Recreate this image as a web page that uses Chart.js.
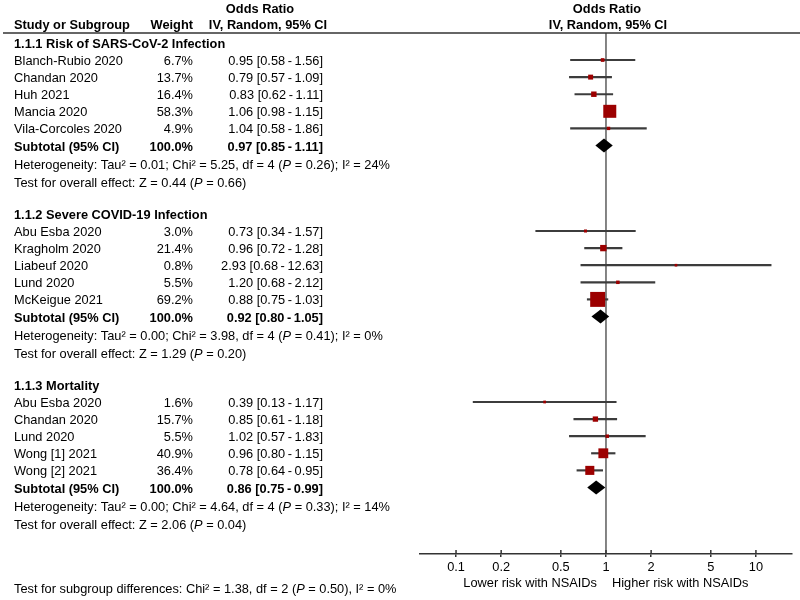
<!DOCTYPE html>
<html>
<head>
<meta charset="utf-8">
<script src="https://cdn.jsdelivr.net/npm/chart.js@4.4.0/dist/chart.umd.min.js"></script>
<style>
html, body { margin: 0; padding: 0; background: #fff; }
#wrap { width: 800px; height: 600px; position: relative; }
</style>
</head>
<body>
<div id="wrap"><canvas id="forest" width="800" height="600"></canvas></div>
<script>
// subgroup titles
var groupTitles = ["1.1.1 Risk of SARS-CoV-2 Infection", "1.1.2 Severe COVID-19 Infection", "1.1.3 Mortality"];

// 1.1.1
var studies1 = ["Blanch-Rubio 2020", "Chandan 2020", "Huh 2021", "Mancia 2020", "Vila-Corcoles 2020"];
var weights1 = [6.7, 13.7, 16.4, 58.3, 4.9];
var or1 = [0.95, 0.79, 0.83, 1.06, 1.04];
var lo1 = [0.58, 0.57, 0.62, 0.98, 0.58];
var hi1 = [1.56, 1.09, 1.11, 1.15, 1.86];

// 1.1.2
var studies2 = ["Abu Esba 2020", "Kragholm 2020", "Liabeuf 2020", "Lund 2020", "McKeigue 2021"];
var weights2 = [3.0, 21.4, 0.8, 5.5, 69.2];
var or2 = [0.73, 0.96, 2.93, 1.20, 0.88];
var lo2 = [0.34, 0.72, 0.68, 0.68, 0.75];
var hi2 = [1.57, 1.28, 12.63, 2.12, 1.03];

// 1.1.3
var studies3 = ["Abu Esba 2020", "Chandan 2020", "Lund 2020", "Wong [1] 2021", "Wong [2] 2021"];
var weights3 = [1.6, 15.7, 5.5, 40.9, 36.4];
var or3 = [0.39, 0.85, 1.02, 0.96, 0.78];
var lo3 = [0.13, 0.61, 0.57, 0.80, 0.64];
var hi3 = [1.17, 1.18, 1.83, 1.15, 0.95];

// subtotals
var subOr = [0.97, 0.92, 0.86];
var subLo = [0.85, 0.80, 0.75];
var subHi = [1.11, 1.05, 0.99];

// heterogeneity + overall effect
var hetTau = ["0.01", "0.00", "0.00"];
var hetChi = ["5.25", "3.98", "4.64"];
var hetDf = [4, 4, 4];
var hetP = ["0.26", "0.41", "0.33"];
var hetI2 = [24, 0, 14];
var effZ = ["0.44", "1.29", "2.06"];
var effP = ["0.66", "0.20", "0.04"];

var tickValues = [0.1, 0.2, 0.5, 1, 2, 5, 10];

var FONT = "'Liberation Sans', Arial, sans-serif";
var FS = "12.8px ";

var groups = [
    {studies: studies1, w: weights1, or: or1, lo: lo1, hi: hi1},
    {studies: studies2, w: weights2, or: or2, lo: lo2, hi: hi2},
    {studies: studies3, w: weights3, or: or3, lo: lo3, hi: hi3}
];

function ciText(o, l, h) {
    return o.toFixed(2) + " [" + l.toFixed(2) + "\u2009-\u2009" + h.toFixed(2) + "]";
}

// lay out rows (row index on the y axis)
var rows = [];      // text rows
var ciData = [];
var pointData = [];
var pointSize = [];
var diamonds = [];
var r = -1;
for (var g = 0; g < groups.length; g++) {
    var gr = groups[g];
    rows.push({row: r, kind: "title", text: groupTitles[g]});
    r++;
    for (var i = 0; i < gr.studies.length; i++) {
        rows.push({row: r, kind: "study", text: gr.studies[i], weight: gr.w[i].toFixed(1) + "%", ci: ciText(gr.or[i], gr.lo[i], gr.hi[i])});
        ciData.push({y: r, x: [gr.lo[i], gr.hi[i]]});
        pointData.push({x: gr.or[i], y: r});
        // square side grows with weight
        pointSize.push((2.5 + 0.18 * gr.w[i]) / Math.SQRT2);
        r++;
    }
    rows.push({row: r, kind: "subtotal", text: "Subtotal (95% CI)", weight: "100.0%", ci: ciText(subOr[g], subLo[g], subHi[g])});
    diamonds.push({row: r, or: subOr[g], lo: subLo[g], hi: subHi[g]});
    r++;
    rows.push({row: r, kind: "het", g: g});
    r++;
    rows.push({row: r, kind: "eff", g: g});
    r += 2;
}

function drawParts(ctx, x, y, parts) {
    for (var k = 0; k < parts.length; k++) {
        ctx.font = (parts[k][1] ? "italic " : "") + FS + FONT;
        ctx.fillText(parts[k][0], x, y);
        x += ctx.measureText(parts[k][0]).width;
    }
}

var forestPlugin = {
    id: "forest",
    beforeDatasetsDraw: function (chart) {
        var ctx = chart.ctx, ca = chart.chartArea, xs = chart.scales.x;
        ctx.save();
        // header rule
        ctx.strokeStyle = "#333";
        ctx.lineWidth = 1.5;
        ctx.beginPath();
        ctx.moveTo(3, ca.top);
        ctx.lineTo(800, ca.top);
        ctx.stroke();
        // line of no effect
        var x1 = xs.getPixelForValue(1);
        ctx.lineWidth = 1.2;
        ctx.beginPath();
        ctx.moveTo(x1, ca.top);
        ctx.lineTo(x1, ca.bottom);
        ctx.stroke();
        // upper half of tick marks
        ctx.lineWidth = 1.5;
        tickValues.forEach(function (v) {
            var px = xs.getPixelForValue(v);
            ctx.beginPath();
            ctx.moveTo(px, ca.bottom - 4);
            ctx.lineTo(px, ca.bottom);
            ctx.stroke();
        });
        ctx.restore();
    },
    afterDatasetsDraw: function (chart) {
        var ctx = chart.ctx, xs = chart.scales.x, ys = chart.scales.y;
        ctx.save();
        ctx.fillStyle = "#000";
        diamonds.forEach(function (d) {
            var yc = ys.getPixelForValue(d.row);
            ctx.beginPath();
            ctx.moveTo(xs.getPixelForValue(d.lo), yc);
            ctx.lineTo(xs.getPixelForValue(d.or), yc - 7);
            ctx.lineTo(xs.getPixelForValue(d.hi), yc);
            ctx.lineTo(xs.getPixelForValue(d.or), yc + 7);
            ctx.closePath();
            ctx.fill();
        });
        ctx.restore();
    },
    afterDraw: function (chart) {
        var ctx = chart.ctx, xs = chart.scales.x, ys = chart.scales.y;
        var x1 = xs.getPixelForValue(1);
        ctx.save();
        ctx.fillStyle = "#000";
        ctx.textBaseline = "middle";

        // headers
        ctx.font = "bold " + FS + FONT;
        ctx.textAlign = "left";
        ctx.fillText("Study or Subgroup", 14, 25);
        ctx.textAlign = "right";
        ctx.fillText("Weight", 193, 25);
        ctx.textAlign = "center";
        ctx.fillText("Odds Ratio", 260, 9);
        ctx.fillText("IV, Random, 95% CI", 268, 25);
        ctx.fillText("Odds Ratio", x1 + 1, 9);
        ctx.fillText("IV, Random, 95% CI", x1 + 2, 25);

        rows.forEach(function (row) {
            var y = ys.getPixelForValue(row.row) + 1.5;
            if (row.kind === "title") {
                ctx.font = "bold " + FS + FONT;
                ctx.textAlign = "left";
                ctx.fillText(row.text, 14, y);
            } else if (row.kind === "study" || row.kind === "subtotal") {
                ctx.font = (row.kind === "subtotal" ? "bold " : "") + FS + FONT;
                ctx.textAlign = "left";
                ctx.fillText(row.text, 14, y);
                ctx.textAlign = "right";
                ctx.fillText(row.weight, 193, y);
                ctx.fillText(row.ci, 323, y);
            } else if (row.kind === "het") {
                ctx.textAlign = "left";
                drawParts(ctx, 14, y + 1, [
                    ["Heterogeneity: Tau\u00b2 = " + hetTau[row.g] + "; Chi\u00b2 = " + hetChi[row.g] + ", df = " + hetDf[row.g] + " (", false],
                    ["P", true],
                    [" = " + hetP[row.g] + "); I\u00b2 = " + hetI2[row.g] + "%", false]
                ]);
            } else if (row.kind === "eff") {
                ctx.textAlign = "left";
                drawParts(ctx, 14, y + 2, [
                    ["Test for overall effect: Z = " + effZ[row.g] + " (", false],
                    ["P", true],
                    [" = " + effP[row.g] + ")", false]
                ]);
            }
        });

        // favours labels
        ctx.font = FS + FONT;
        ctx.textAlign = "right";
        ctx.fillText("Lower risk with NSAIDs", x1 - 9, 583);
        ctx.textAlign = "left";
        ctx.fillText("Higher risk with NSAIDs", x1 + 6, 583);

        drawParts(ctx, 14, 589, [
            ["Test for subgroup differences: Chi\u00b2 = 1.38, df = 2 (", false],
            ["P", true],
            [" = 0.50), I\u00b2 = 0%", false]
        ]);
        ctx.restore();
    }
};

var ctx = document.getElementById("forest");

var forestChart = new Chart(ctx, {
    type: "bar",
    data: {
        datasets: [
            {
                type: "scatter",
                label: "Odds ratio",
                data: pointData,
                pointStyle: "rect",
                pointRadius: pointSize,
                pointHoverRadius: pointSize,
                backgroundColor: "#9c0000",
                borderWidth: 0,
                order: 0
            },
            {
                type: "bar",
                label: "95% CI",
                indexAxis: "y",
                data: ciData,
                barThickness: 1.5,
                backgroundColor: "#3c3c3c",
                order: 1
            }
        ]
    },
    options: {
        responsive: false,
        animation: false,
        devicePixelRatio: 1,
        indexAxis: "y",
        layout: {autoPadding: false, padding: {left: 420, right: 8, top: 33, bottom: 16}},
        plugins: {legend: {display: false}, tooltip: {enabled: false}},
        scales: {
            x: {
                type: "logarithmic",
                position: "bottom",
                min: 0.0575,
                max: 17.4,
                afterBuildTicks: function (scale) {
                    scale.ticks = tickValues.map(function (v) { return {value: v}; });
                },
                afterFit: function (scale) { scale.height = 30; },
                border: {display: true, color: "#333", width: 1.5},
                grid: {display: true, drawOnChartArea: false, drawTicks: true, tickLength: 3, color: "#333", lineWidth: 1.5},
                ticks: {
                    color: "#000",
                    padding: 3,
                    maxRotation: 0,
                    autoSkip: false,
                    font: {family: FONT, size: 12.8},
                    callback: function (v) { return String(v); }
                }
            },
            y: {
                type: "linear",
                reverse: true,
                display: false,
                offset: false,
                min: -1.58,
                max: 28.89
            }
        }
    },
    plugins: [forestPlugin]
});
</script>
</body>
</html>
